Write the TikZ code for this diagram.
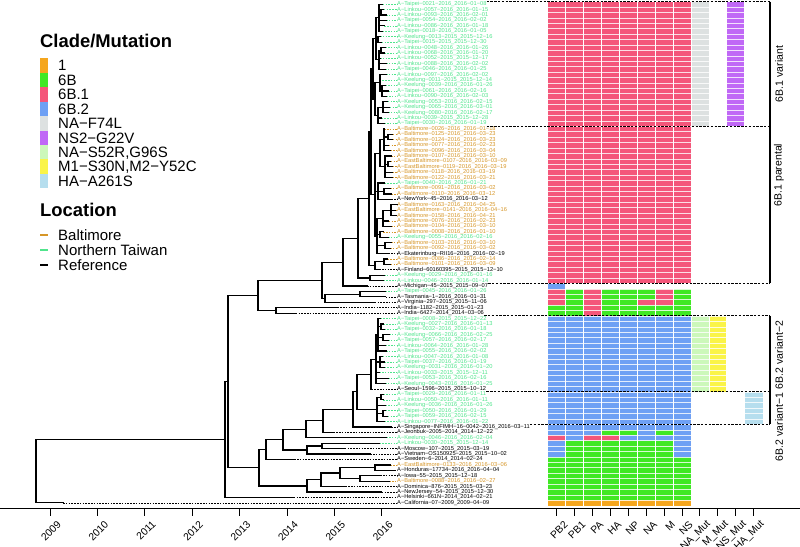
\documentclass[tikz,border=0pt]{standalone}
\usepackage{fontspec}
\setmainfont{Liberation Sans}
\usetikzlibrary{calc}
\definecolor{cOne}{RGB}{245,166,30}
\definecolor{cSixB}{RGB}{64,232,36}
\definecolor{cSixBa}{RGB}{244,86,122}
\definecolor{cSixBb}{RGB}{110,160,244}
\definecolor{cFsf}{RGB}{221,225,225}
\definecolor{cNSt}{RGB}{192,104,246}
\definecolor{cSft}{RGB}{204,248,186}
\definecolor{cMone}{RGB}{250,244,72}
\definecolor{cHAt}{RGB}{182,222,238}
\definecolor{cBal}{RGB}{214,150,40}
\definecolor{cTW}{RGB}{80,228,140}
\definecolor{cRef}{RGB}{0,0,0}
\newcommand\fsz[1]{\fontsize{#1}{#1}\selectfont}
\newcommand\clade[5]{%
  \path let \p1=(#3), \p2=(#4) in coordinate (#1) at (#2pt,{0.5*\y1+0.5*\y2});
  \foreach \cc in {#3,#5#4}{\draw[br] (#1) |- (\cc);}%
}
\newcommand\hmblock[5]{%
  \fill[#5] ({547.8+17.9*#3},{1.5+5.42*(#1-1)}) rectangle ({547.8+17.9*(#4+1)},{1.5+5.42*#2});%
}
\tikzset{
  br/.style={line width=1.2pt,black,line cap=rect},
  tipd/.style={dash pattern=on 1.6pt off 1.2pt,line width=0.7pt},
  lab/.style={anchor=west,inner sep=0pt,font=\fsz{5.7}},
  bnd/.style={dash pattern=on 2.4pt off 1.4pt,line width=0.9pt,black},
  brk/.style={line width=1.6pt,black},
  legt/.style={anchor=base west,inner sep=0pt,font=\fsz{15}},
  legh/.style={anchor=base west,inner sep=0pt,font=\bfseries\fsz{18.4}},
  axl/.style={anchor=east,inner sep=0pt,rotate=45,font=\fsz{10.3}},
  vlab/.style={rotate=90,inner sep=0pt,font=\fsz{10.5}}
}
\begin{document}
\begin{tikzpicture}[x=1pt,y=-1pt]
\useasboundingbox (0,0) rectangle (800,546);
% ---------- heatmap ----------
\hmblock{1}{52}{0}{7}{cSixBa}
\hmblock{1}{23}{8}{8}{cFsf}
\hmblock{1}{23}{10}{10}{cNSt}
\hmblock{53}{53}{0}{0}{cSixBb}
\hmblock{54}{56}{0}{0}{cSixBa}
\hmblock{57}{58}{0}{0}{cSixB}
\hmblock{54}{58}{1}{1}{cSixB}
\hmblock{54}{58}{2}{2}{cSixBa}
\hmblock{54}{58}{3}{4}{cSixB}
\hmblock{54}{55}{5}{5}{cSixB}
\hmblock{56}{56}{5}{5}{cSixBa}
\hmblock{57}{58}{5}{5}{cSixB}
\hmblock{54}{56}{6}{6}{cSixBa}
\hmblock{57}{58}{6}{6}{cSixB}
\hmblock{54}{58}{7}{7}{cSixB}
\hmblock{59}{79}{0}{7}{cSixBb}
\hmblock{59}{72}{8}{8}{cSft}
\hmblock{59}{72}{9}{9}{cMone}
\hmblock{73}{78}{11}{11}{cHAt}
\hmblock{80}{80}{0}{2}{cSixBb}
\hmblock{80}{80}{3}{4}{cSixB}
\hmblock{80}{80}{5}{5}{cSixBb}
\hmblock{80}{80}{6}{6}{cSixB}
\hmblock{80}{80}{7}{7}{cSixBb}
\hmblock{81}{81}{0}{0}{cSixBa}
\hmblock{81}{81}{1}{1}{cSixBb}
\hmblock{81}{81}{2}{3}{cSixBa}
\hmblock{81}{81}{4}{7}{cSixBb}
\hmblock{82}{84}{0}{0}{cSixBb}
\hmblock{82}{84}{1}{6}{cSixB}
\hmblock{82}{84}{7}{7}{cSixBb}
\hmblock{85}{92}{0}{7}{cSixB}
\hmblock{93}{93}{0}{7}{cOne}
\foreach \k in {1,...,11}{\draw[white,line width=0.8pt] ({547.8+17.9*\k},1.5) -- ({547.8+17.9*\k},505.6);}
\foreach \r in {1,...,92}{\draw[white,line width=0.35pt,opacity=0.8] (547.8,{1.5+5.42*\r}) -- (762.6,{1.5+5.42*\r});}
% ---------- tips and labels ----------
\foreach \i/\x/\c/\t in {
1/382.8/cTW/A−Taipei−0021−2016\_2016−01−08,
2/383.7/cTW/A−Linkou−0057−2016\_2016−01−15,
3/385.9/cTW/A−Linkou−0093−2016\_2016−02−01,
4/386.0/cTW/A−Taipei−0054−2016\_2016−02−02,
5/384.1/cTW/A−Linkou−0086−2016\_2016−01−18,
6/382.4/cTW/A−Taipei−0018−2016\_2016−01−05,
7/379.9/cTW/A−Keelung−0013−2015\_2015−12−16,
8/381.7/cTW/A−Taipei−0015−2015\_2015−12−30,
9/385.2/cTW/A−Linkou−0048−2016\_2016−01−26,
10/384.4/cTW/A−Linkou−0068−2016\_2016−01−20,
11/380.0/cTW/A−Linkou−0052−2015\_2015−12−17,
12/386.0/cTW/A−Linkou−0088−2016\_2016−02−02,
13/385.0/cTW/A−Taipei−0046−2016\_2016−01−25,
14/386.0/cTW/A−Linkou−0097−2016\_2016−02−02,
15/379.6/cTW/A−Keelung−0011−2015\_2015−12−14,
16/385.2/cTW/A−Keelung−0039−2016\_2016−01−26,
17/387.9/cTW/A−Taipei−0061−2016\_2016−02−16,
18/386.1/cTW/A−Linkou−0090−2016\_2016−02−03,
19/387.7/cTW/A−Keelung−0053−2016\_2016−02−15,
20/389.8/cTW/A−Keelung−0065−2016\_2016−03−01,
21/388.0/cTW/A−Keelung−0080−2016\_2016−02−17,
22/381.4/cTW/A−Linkou−0039−2015\_2015−12−28,
23/384.2/cTW/A−Taipei−0030−2016\_2016−01−19,
24/384.1/cBal/A−Baltimore−0026−2016\_2016−01−18,
25/392.7/cBal/A−Baltimore−0125−2016\_2016−03−23,
26/392.7/cBal/A−Baltimore−0124−2016\_2016−03−23,
27/388.7/cBal/A−Baltimore−0077−2016\_2016−02−23,
28/390.2/cBal/A−Baltimore−0096−2016\_2016−03−04,
29/391.0/cBal/A−Baltimore−0107−2016\_2016−03−10,
30/390.8/cBal/A−EastBaltimore−0107−2016\_2016−03−09,
31/392.2/cBal/A−EastBaltimore−0119−2016\_2016−03−19,
32/392.2/cBal/A−Baltimore−0118−2016\_2016−03−19,
33/392.4/cBal/A−Baltimore−0122−2016\_2016−03−21,
34/384.5/cTW/A−Taipei−0040−2016\_2016−01−21,
35/389.9/cBal/A−Baltimore−0091−2016\_2016−03−02,
36/391.2/cBal/A−Baltimore−0110−2016\_2016−03−12,
37/391.2/cRef/A−NewYork−45−2016\_2016−03−12,
38/396.9/cBal/A−Baltimore−0163−2016\_2016−04−25,
39/395.8/cBal/A−EastBaltimore−0141−2016\_2016−04−16,
40/396.4/cBal/A−Baltimore−0158−2016\_2016−04−21,
41/388.7/cBal/A−Baltimore−0076−2016\_2016−02−23,
42/391.0/cBal/A−Baltimore−0104−2016\_2016−03−10,
43/383.1/cBal/A−Baltimore−0008−2016\_2016−01−10,
44/387.9/cTW/A−Keelung−0055−2016\_2016−02−16,
45/391.0/cBal/A−Baltimore−0103−2016\_2016−03−10,
46/389.9/cBal/A−Baltimore−0092−2016\_2016−03−02,
47/388.2/cRef/A−Ekaterinburg−RII16−2016\_2016−02−19,
48/387.6/cBal/A−Baltimore−0086−2016\_2016−02−14,
49/390.8/cBal/A−Baltimore−0101−2016\_2016−03−09,
50/379.1/cRef/A−Finland−60160395−2015\_2015−12−10,
51/383.9/cTW/A−Keelung−0029−2016\_2016−01−16,
52/383.6/cTW/A−Linkou−0046−2016\_2016−01−14,
53/366.9/cRef/A−Michigan−45−2015\_2015−09−07,
54/385.2/cTW/A−Taipei−0045−2016\_2016−01−26,
55/385.8/cRef/A−Tasmania−1−2016\_2016−01−31,
56/374.7/cRef/A−Virginia−297−2015\_2015−11−06,
57/337.4/cRef/A−India−1182−2015\_2015−01−23,
58/295.7/cRef/A−India−6427−2014\_2014−03−06,
59/380.4/cTW/A−Taipei−0008−2015\_2015−12−22,
60/383.5/cTW/A−Keelung−0027−2016\_2016−01−13,
61/384.1/cTW/A−Taipei−0032−2016\_2016−01−18,
62/389.0/cTW/A−Keelung−0066−2016\_2016−02−25,
63/388.0/cTW/A−Taipei−0057−2016\_2016−02−17,
64/385.4/cTW/A−Linkou−0064−2016\_2016−01−28,
65/386.0/cTW/A−Taipei−0055−2016\_2016−02−02,
66/382.8/cTW/A−Linkou−0047−2016\_2016−01−08,
67/384.3/cTW/A−Taipei−0037−2016\_2016−01−19,
68/384.4/cTW/A−Keelung−0031−2016\_2016−01−20,
69/379.2/cTW/A−Linkou−0033−2015\_2015−12−11,
70/387.9/cTW/A−Taipei−0053−2016\_2016−02−16,
71/385.0/cTW/A−Keelung−0043−2016\_2016−01−25,
72/371.5/cRef/A−Seoul−1596−2015\_2015−10−12,
73/383.2/cTW/A−Taipei−0029−2016\_2016−01−11,
74/383.2/cTW/A−Linkou−0050−2016\_2016−01−11,
75/385.2/cTW/A−Keelung−0036−2016\_2016−01−26,
76/385.6/cTW/A−Taipei−0050−2016\_2016−01−29,
77/387.7/cTW/A−Taipei−0059−2016\_2016−02−15,
78/384.6/cTW/A−Linkou−0077−2016\_2016−01−22,
79/391.1/cRef/A−Singapore−INFIMH−16−0042−2016\_2016−03−11,
80/333.3/cRef/A−Jeonbuk−2005−2014\_2014−12−22,
81/386.2/cTW/A−Keelung−0046−2016\_2016−02−04,
82/379.6/cTW/A−Linkou−0030−2015\_2015−12−14,
83/344.8/cRef/A−Moscow−107−2015\_2015−03−19,
84/370.2/cRef/A−Vietnam−OS150925−2015\_2015−10−02,
85/294.1/cRef/A−Sweden−6−2014\_2014−02−24,
86/390.5/cBal/A−EastBaltimore−0133−2016\_2016−03−06,
87/394.2/cRef/A−Honduras−17734−2016\_2016−04−04,
88/380.1/cRef/A−Iowa−55−2015\_2015−12−18,
89/389.2/cBal/A−Baltimore−0088−2016\_2016−02−27,
90/345.3/cRef/A−Dominica−876−2015\_2015−03−23,
91/381.7/cRef/A−NewJersey−54−2015\_2015−12−30,
92/293.7/cRef/A−Helsinki−661N−2014\_2014−02−21,
93/63.0/cRef/A−California−07−2009\_2009−04−09}{
  \pgfmathsetmacro\yy{1.5+5.42*(\i-0.5)}
  \coordinate (t\i) at (\x,\yy);
  \node[lab,text=\c] (l\i) at (397,\yy) {\t};
  \draw[tipd,\c] (t\i) -- (l\i.west);
}
% ---------- tree ----------
\clade{g1}{381}{t2}{t3}{}
\clade{g2}{379}{t1}{t6}{g1,t4,t5,}
\clade{g3}{378}{t7}{t8}{}
\clade{g4}{381}{t9}{t10}{}
\clade{g5}{379}{g4}{t13}{t11,t12,}
\clade{g6}{376}{g2}{g5}{g3,}
\clade{g7}{382}{t16}{t18}{t17,}
\clade{g8}{380}{t14}{g7}{t15,}
\clade{g9}{383}{t19}{t21}{t20,}
\clade{g10}{378}{g9}{t23}{t22,}
\clade{g11}{375}{g8}{g10}{}
\clade{VAR}{373}{g6}{g11}{}
\clade{p1}{388}{t25}{t26}{}
\clade{p2}{384}{t24}{t28}{p1,t27,}
\clade{p3}{388}{t30}{t31}{}
\clade{p4}{385}{t29}{t33}{p3,t32,}
\clade{p5}{380}{p2}{p4}{}
\clade{p6}{384}{t35}{t36}{}
\clade{p7}{378}{t34}{t37}{p6,}
\clade{p8}{391}{t38}{t40}{t39,}
\clade{p9}{383}{p8}{t42}{t41,}
\clade{p10}{380}{t43}{t44}{}
\clade{p11}{385}{t45}{t46}{}
\clade{p12}{377}{p9}{t47}{p10,p11,}
\clade{p13}{375}{p5}{p12}{p7,}
\clade{p14}{384}{t48}{t49}{}
\clade{p15}{375}{p14}{t50}{}
\clade{W1}{371}{VAR}{p13}{}
\clade{W}{369}{W1}{p15}{}
\clade{X}{370}{t51}{t52}{}
\clade{V}{358}{W}{X}{}
\clade{S}{343}{V}{t53}{}
\clade{U}{360}{t54}{t55}{}
\clade{T}{325}{U}{t56}{}
\clade{Q}{322}{S}{T}{}
\clade{R}{276}{t57}{t58}{}
\clade{P}{258}{Q}{R}{}
\clade{k1}{381}{t60}{t61}{}
\clade{k2}{383}{t62}{t63}{}
\clade{k3}{378}{t59}{t65}{k1,k2,t64,}
\clade{k4}{380}{t66}{t68}{t67,}
\clade{k5}{376}{k3}{t71}{k4,t69,t70,}
\clade{L}{371}{k5}{t72}{}
\clade{m1}{381}{t73}{t74}{}
\clade{m2}{383}{t76}{t77}{}
\clade{M}{377}{m1}{t78}{t75,m2,}
\clade{K}{357}{L}{M}{}
\clade{J}{353}{K}{t79}{}
\clade{I}{323}{J}{t80}{}
\clade{G}{306}{I}{t81}{}
\clade{H1}{322}{t82}{t83}{}
\clade{H}{307}{H1}{t84}{}
\clade{F}{283}{G}{H}{}
\clade{D}{266}{F}{t85}{}
\clade{E5}{375}{t86}{t87}{}
\clade{E6}{360}{t88}{t89}{}
\clade{E4}{340}{E5}{E6}{}
\clade{E3}{321}{E4}{t90}{}
\clade{E}{307}{E3}{t91}{}
\clade{C}{259}{D}{E}{}
\clade{B}{228}{P}{C}{}
\clade{A}{225}{B}{t92}{}
\clade{Root}{36}{A}{t93}{}
% ---------- clade boundaries and brackets ----------
\coordinate (bk1) at (770,1.5);
\coordinate (bk2) at (770,126.2);
\coordinate (bk3) at (770,283.3);
\coordinate (bk4) at (770,315.9);
\coordinate (bk5) at (770,391.8);
\coordinate (bk6) at (770,424.3);
\draw[bnd] (l1.east |- bk1) -- (bk1);
\draw[bnd] (l23.east |- bk2) -- (bk2);
\draw[bnd] (l53.east |- bk3) -- (bk3);
\draw[bnd] (l58.east |- bk4) -- (bk4);
\draw[bnd] (l72.east |- bk5) -- (bk5);
\draw[bnd] (l79.east |- bk6) -- (bk6);
\draw[brk] (bk1) -- (bk3);
\draw[brk] (bk4) -- (bk6);
\node[vlab] (b1) at (779,74) {6B.1 variant};
\node[vlab] (b2) at (779,175) {6B.1 parental};
\node[vlab] (b3) at (779,355) {6B.2 variant−2};
\node[vlab] (b4) at (779,427) {6B.2 variant−1};
% ---------- axis ----------
\draw[line width=0.9pt] (0,508) -- (800,508);
\foreach \yr [count=\k from 0] in {2009,...,2016}{
  \draw[line width=0.9pt] ({50+47.4*\k},508) -- ({50+47.4*\k},516);
  \node[axl] (yr\yr) at ({59.2+47.4*\k},522.6) {\yr};
}
\foreach \cl [count=\k from 0] in {PB2,PB1,PA,HA,NP,NA,M,NS,NA\_Mut,M\_Mut,NS\_Mut,HA\_Mut}{
  \draw[line width=0.9pt] ({556.7+17.9*\k},508) -- ({556.7+17.9*\k},516);
  \node[axl] (col\k) at ({565.9+17.9*\k},522.6) {\cl};
}
% ---------- legend ----------
\node[legh] (lh1) at (40,47.6) {Clade/Mutation};
\foreach \col/\txt [count=\k from 0] in {cOne/1,cSixB/6B,cSixBa/6B.1,cSixBb/6B.2,cFsf/NA−F74L,cNSt/NS2−G22V,cSft/{NA−S52R,G96S},cMone/{M1−S30N,M2−Y52C},cHAt/HA−A261S}{
  \fill[\col] (40,{58.3+14.45*\k}) rectangle (48,{58.3+14.45*(\k+1)});
  \node[legt] (lg\k) at (58,{65.5+14.45*\k+5.3}) {\txt};
}
\node[legh] (lh2) at (40,216.6) {Location};
\foreach \col/\txt [count=\k from 0] in {cBal/Baltimore,cTW/Northern Taiwan,cRef/Reference}{
  \fill[\col] (40,{235+15*\k-1.4}) rectangle (48,{235+15*\k+1.4});
  \node[legt] (ll\k) at (58,{235+15*\k+5.3}) {\txt};
}
\end{tikzpicture}
\end{document}
